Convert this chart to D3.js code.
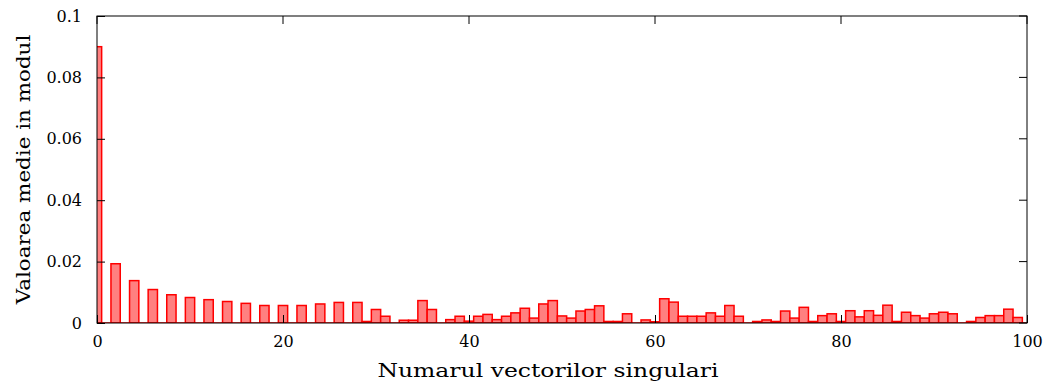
<!DOCTYPE html>
<html>
<head>
<meta charset="utf-8">
<script src="https://cdn.jsdelivr.net/npm/d3@7"></script>
<style>
  body { margin: 0; background: #fff; }
  svg text { font-family: "DejaVu Serif", serif; fill: #000; }
</style>
</head>
<body>
<svg id="chart" width="1051" height="383"></svg>
<script>
// mean absolute value for each singular vector index (0..100)
const meanValues = [
  0.090, 0, 0.0193, 0, 0.0138, 0, 0.0109, 0, 0.0092, 0,
  0.0083, 0, 0.0076, 0, 0.0070, 0, 0.0064, 0, 0.0057, 0,
  0.0057, 0, 0.0057, 0, 0.0062, 0, 0.0067, 0, 0.0067, 0.0005,
  0.0044, 0.0022, 0, 0.0009, 0.0009, 0.0073, 0.0044, 0, 0.0011, 0.0022,
  0.0006, 0.0022, 0.0028, 0.0011, 0.0022, 0.0033, 0.0048, 0.0016, 0.0062, 0.0073,
  0.0023, 0.0016, 0.0039, 0.0044, 0.0056, 0.0005, 0.0005, 0.0030, 0, 0.0010,
  0.0004, 0.0079, 0.0068, 0.0022, 0.0022, 0.0022, 0.0033, 0.0022, 0.0057, 0.0022,
  0, 0.0005, 0.0010, 0.0005, 0.0039, 0.0016, 0.0051, 0.0005, 0.0024, 0.0030,
  0.0005, 0.0040, 0.0020, 0.0040, 0.0025, 0.0058, 0.0005, 0.0035, 0.0024, 0.0016,
  0.0030, 0.0035, 0.0030, 0, 0.0005, 0.0018, 0.0024, 0.0024, 0.0045, 0.0018,
  0
];
const xTicks = [0, 20, 40, 60, 80, 100];
const yTicks = [0, 0.02, 0.04, 0.06, 0.08, 0.1];
const yTickLabels = ["0", "0.02", "0.04", "0.06", "0.08", "0.1"];
const xTitle = "Numarul vectorilor singulari";
const yTitle = "Valoarea medie in modul";

const svg = d3.select("#chart");
const margin = {top: 16, right: 24, bottom: 60, left: 97};
const W = +svg.attr("width"), H = +svg.attr("height");

const x = d3.scaleLinear().domain([0, 100]).range([margin.left, W - margin.right]);
const y = d3.scaleLinear().domain([0, 0.1]).range([H - margin.bottom, margin.top]);

svg.append("clipPath").attr("id", "plotclip")
  .append("rect")
  .attr("x", x(0)).attr("y", y(0.1))
  .attr("width", x(100) - x(0)).attr("height", y(0) - y(0.1));

const data = meanValues.map((v, i) => ({i: i, v: v}));

const bars = svg.append("g").attr("clip-path", "url(#plotclip)");

bars.selectAll("rect")
  .data(data.filter(d => d.v > 0))
  .join("rect")
  .attr("x", d => x(d.i - 0.5))
  .attr("width", d => x(d.i + 0.5) - x(d.i - 0.5))
  .attr("y", d => y(d.v))
  .attr("height", d => y(0) - y(d.v))
  .attr("fill", "#ff8080")
  .attr("stroke", "#ff0000")
  .attr("stroke-width", 1.5);

// red baseline left by zero height bars
bars.append("line")
  .attr("x1", x(0)).attr("x2", x(100))
  .attr("y1", y(0)).attr("y2", y(0))
  .attr("stroke", "#ff0000").attr("stroke-width", 1.5);

// box
svg.append("rect")
  .attr("x", x(0)).attr("y", y(0.1))
  .attr("width", x(100) - x(0)).attr("height", y(0) - y(0.1))
  .attr("fill", "none").attr("stroke", "#000").attr("stroke-width", 1);

const tickLen = 8;

// x axis (ticks inside)
const xAxis = svg.append("g").attr("transform", `translate(0,${y(0)})`)
  .call(d3.axisBottom(x).tickValues(xTicks).tickSize(-tickLen).tickPadding(tickLen + 5).tickFormat(d3.format("d")));
xAxis.select(".domain").remove();
xAxis.selectAll("text").style("font-size", "16px").style("font-family", "DejaVu Serif, serif");

// y axis
const yAxis = svg.append("g").attr("transform", `translate(${x(0)},0)`)
  .call(d3.axisLeft(y).tickValues(yTicks).tickSize(-tickLen).tickPadding(tickLen + 7)
    .tickFormat((d, i) => yTickLabels[i]));
yAxis.select(".domain").remove();
yAxis.selectAll("text").style("font-size", "16px").style("font-family", "DejaVu Serif, serif");

// mirrored ticks on top and right
svg.append("g").selectAll("line").data(xTicks).join("line")
  .attr("x1", d => x(d)).attr("x2", d => x(d))
  .attr("y1", y(0.1)).attr("y2", y(0.1) + tickLen)
  .attr("stroke", "#000");
svg.append("g").selectAll("line").data(yTicks).join("line")
  .attr("x1", x(100)).attr("x2", x(100) - tickLen)
  .attr("y1", d => y(d)).attr("y2", d => y(d))
  .attr("stroke", "#000");

// titles, the source font is wider than DejaVu Serif so stretch a bit
svg.append("text")
  .attr("transform", "translate(548,377) scale(1.27,1)")
  .attr("text-anchor", "middle")
  .style("font-size", "18.5px")
  .text(xTitle);

svg.append("text")
  .attr("transform", `translate(30,${(y(0) + y(0.1)) / 2}) rotate(-90) scale(1.16,1)`)
  .attr("text-anchor", "middle")
  .style("font-size", "18.5px")
  .text(yTitle);
</script>
</body>
</html>
